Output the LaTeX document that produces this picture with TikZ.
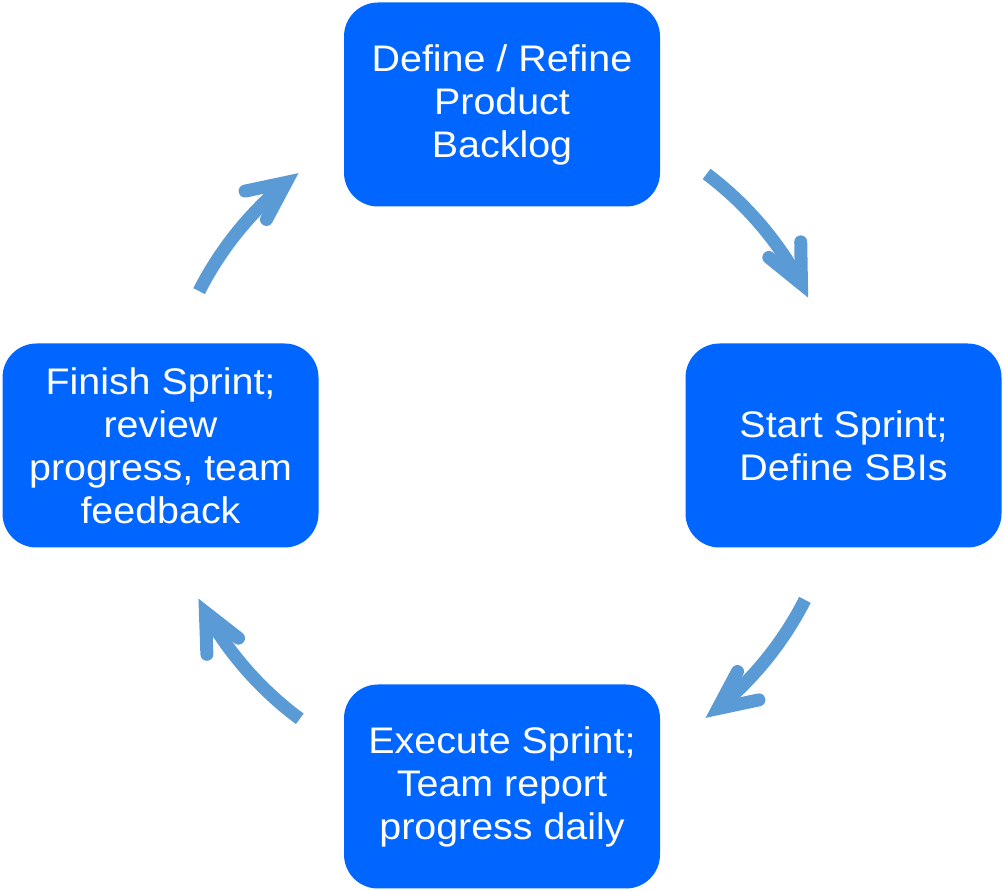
\documentclass[tikz,border=0pt]{standalone}
\usepackage{fontspec}
\setmainfont{Liberation Sans}[FakeStretch=1.065]
\usetikzlibrary{calc}
\definecolor{boxblue}{HTML}{0066FF}
\definecolor{arrowblue}{HTML}{5B9BD5}
\newcommand\cyclearrow[3]{%
  \coordinate (#1s) at ($(c)+(#2:340)$);
  \coordinate (#1t) at ($(c)+(#3:340)$);
  \coordinate (#1v) at ($(#1t)+(#3+90:14)$);
  \draw[shaft] (#1s) arc[start angle=#2, end angle=#3+4, radius=340];
  \draw[head] ($(#1v)+(#3+115:42)$) -- (#1v) -- ($(#1v)+(#3+65:42)$);
}
\begin{document}
\begin{tikzpicture}[x=1pt,y=1pt,
  box/.style={fill=boxblue, rounded corners=34pt, minimum width=316pt, minimum height=204pt,
    text=white, align=center, font=\fontsize{37}{43}\selectfont, inner sep=0pt},
  shaft/.style={draw=arrowblue, line width=13pt},
  head/.style={draw=arrowblue, line width=13pt, line cap=round, line join=miter}]
\useasboundingbox (0,0) rectangle (1004,891);
\coordinate (c) at (502,445.5);
\node[box] (top) at (502,786.5) {Define / Refine\\Product\\Backlog};
\node[box] (right) at (843.5,445.5) {Start Sprint;\\Define SBIs};
\node[box] (bottom) at (502,104.5) {Execute Sprint;\\Team report\\progress daily};
\node[box] (left) at (160.5,445.5) {Finish Sprint;\\review\\progress, team\\feedback};
\cyclearrow{a}{53}{26}
\cyclearrow{b}{-27}{-53}
\cyclearrow{d}{-126.5}{-153}
\cyclearrow{e}{153}{127}
\end{tikzpicture}
\end{document}
